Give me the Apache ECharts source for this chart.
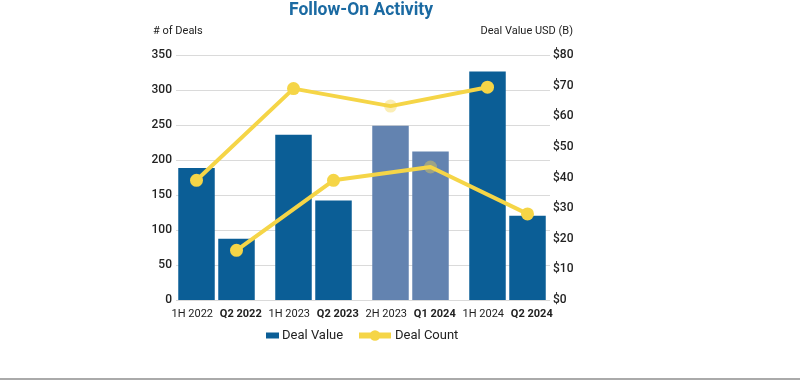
<!DOCTYPE html>
<html>
<head>
<meta charset="utf-8">
<script src="https://cdn.jsdelivr.net/npm/echarts@6/dist/echarts.min.js"></script>
<style>html,body{margin:0;padding:0;background:#fff}#c{width:800px;height:380px}</style>
</head>
<body>
<div id="c"></div>
<script>
// ---- data ----
const periods = ['1H 2022', 'Q2 2022', '1H 2023', 'Q2 2023', '2H 2023', 'Q1 2024', '1H 2024', 'Q2 2024'];
const dealValue = [43.1, 20.0, 54.0, 32.5, 56.9, 48.5, 74.6, 27.5];   // USD $B (right axis)
const dealCount = [171, 71, 302, 171, 277, 190, 304, 123];           // # of deals (left axis)
const highlighted = ['2H 2023', 'Q1 2024'];
const countAxis = { min: 0, max: 350, interval: 50 };
const valueAxis = { min: 0, max: 80, interval: 10 };

// ---- styling ----
const BLUE = '#0b5e96', BLUE_LIGHT = '#6383b0', YELLOW = '#f5d547', TXT = '#222';
const FONT = 'Roboto';
const isQuarter = p => p.startsWith('Q');
const halfOnly = (arr, style) => periods.map((p, i) => isQuarter(p) ? null : style(p, arr[i]));
const quarterOnly = (arr, style) => periods.map((p, i) => isQuarter(p) ? style(p, arr[i]) : null);
const barItem = (p, v) => ({ value: v, itemStyle: { color: highlighted.includes(p) ? BLUE_LIGHT : BLUE } });
const lineItem = (p, v) => highlighted.includes(p) ? { value: v, itemStyle: { opacity: 0.4 } } : v;

const TOP = 55, H = 245;
const grids = [
  { left: 176, right: 250, top: TOP, height: H },          // visible axes
  { left: 172.25, right: 239.75, top: TOP, height: H },    // half-year marks
  { left: 163.75, right: 248.25, top: TOP, height: H },    // quarter marks
  { left: 168, right: 244, top: TOP, height: H }           // category labels
];

const chart = echarts.init(document.getElementById('c'), null, { renderer: 'canvas' });
chart.setOption({
  animation: false,
  textStyle: { fontFamily: FONT },
  title: [
    { text: 'Follow-On Activity', left: 284, top: -3.5,
      textStyle: { fontFamily: FONT, fontSize: 17.5, fontWeight: 'bold', color: '#1b6aa2' } },
    { text: '# of Deals', left: 148, top: 21,
      textStyle: { fontFamily: FONT, fontSize: 11, fontWeight: 'normal', color: TXT } },
    { text: 'Deal Value USD (B)', right: 222, top: 21,
      textStyle: { fontFamily: FONT, fontSize: 11, fontWeight: 'normal', color: TXT } }
  ],
  grid: grids,
  legend: [
    { data: ['Deal Value'], left: 261, top: 324, icon: 'rect', itemWidth: 13, itemHeight: 6, itemGap: 4,
      textStyle: { fontFamily: FONT, fontSize: 13, color: TXT, padding: [0, 0, 0, -2] } },
    { data: ['Deal Count'], left: 351, top: 324, itemWidth: 32, itemHeight: 13,
      lineStyle: { width: 6 },
      textStyle: { fontFamily: FONT, fontSize: 13, color: TXT, padding: [0, 0, 0, -1] } }
  ],
  xAxis: [
    { gridIndex: 0, type: 'category', data: periods, show: false },
    { gridIndex: 1, type: 'category', data: periods, show: false },
    { gridIndex: 2, type: 'category', data: periods, show: false },
    { gridIndex: 3, type: 'category', data: periods,
      axisLine: { show: false }, axisTick: { show: false },
      axisLabel: { interval: 0, margin: 9, fontSize: 11, color: TXT, fontFamily: FONT,
        formatter: v => isQuarter(v) ? '{b|' + v + '}' : v,
        rich: { b: { fontWeight: 'bold', fontSize: 11, color: TXT, fontFamily: FONT } } } }
  ],
  yAxis: [
    { gridIndex: 0, type: 'value', position: 'left', ...countAxis,
      axisLine: { show: false }, axisTick: { show: false },
      axisLabel: { margin: 4, fontSize: 12, color: TXT, fontWeight: 500 },
      splitLine: { lineStyle: { color: '#dadada', width: 1 } } },
    { gridIndex: 0, type: 'value', position: 'right', ...valueAxis,
      axisLine: { show: false }, axisTick: { show: false },
      axisLabel: { margin: 3, fontSize: 12, color: TXT, fontWeight: 500, formatter: v => '$' + v },
      splitLine: { show: false } },
    { gridIndex: 1, type: 'value', ...valueAxis, show: false },
    { gridIndex: 1, type: 'value', ...countAxis, show: false },
    { gridIndex: 2, type: 'value', ...valueAxis, show: false },
    { gridIndex: 2, type: 'value', ...countAxis, show: false },
    { gridIndex: 3, type: 'value', show: false }
  ],
  series: [
    { name: 'Deal Value', type: 'bar', xAxisIndex: 1, yAxisIndex: 2, barWidth: 36.5,
      itemStyle: { color: BLUE }, data: halfOnly(dealValue, barItem) },
    { name: 'Deal Value', type: 'bar', xAxisIndex: 2, yAxisIndex: 4, barWidth: 36.5,
      itemStyle: { color: BLUE }, data: quarterOnly(dealValue, barItem) },
    { name: 'Deal Count', type: 'line', xAxisIndex: 1, yAxisIndex: 3, z: 5, connectNulls: true,
      symbol: 'circle', symbolSize: 13, lineStyle: { color: YELLOW, width: 4 },
      itemStyle: { color: YELLOW }, data: halfOnly(dealCount, lineItem) },
    { name: 'Deal Count', type: 'line', xAxisIndex: 2, yAxisIndex: 5, z: 5, connectNulls: true,
      symbol: 'circle', symbolSize: 13, lineStyle: { color: YELLOW, width: 4 },
      itemStyle: { color: YELLOW }, data: quarterOnly(dealCount, lineItem) }
  ],
  graphic: [
    { type: 'rect', left: 0, top: 378, shape: { width: 800, height: 2 }, style: { fill: '#aaaaaa' } }
  ]
});
</script>
</body>
</html>
